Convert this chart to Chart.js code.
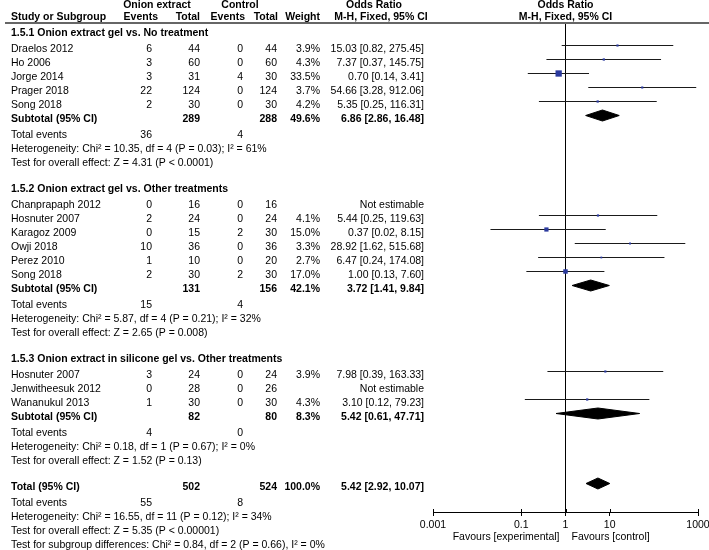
<!DOCTYPE html>
<html>
<head>
<meta charset="utf-8">
<script src="https://cdn.jsdelivr.net/npm/chart.js@4.4.1/dist/chart.umd.min.js"></script>
<style>
html, body { margin: 0; padding: 0; background: #fff; }
</style>
</head>
<body>
<canvas id="forest" width="709" height="550"></canvas>
<script>
// subgroups
var groupTitles = [
    '1.5.1 Onion extract gel vs. No treatment',
    '1.5.2 Onion extract gel vs. Other treatments',
    '1.5.3 Onion extract in silicone gel vs. Other treatments'
];

// studies (null = not estimable)
var studyNames = ['Draelos 2012', 'Ho 2006', 'Jorge 2014', 'Prager 2018', 'Song 2018',
    'Chanprapaph 2012', 'Hosnuter 2007', 'Karagoz 2009', 'Owji 2018', 'Perez 2010', 'Song 2018',
    'Hosnuter 2007', 'Jenwitheesuk 2012', 'Wananukul 2013'];
var studyGroup = [0, 0, 0, 0, 0, 1, 1, 1, 1, 1, 1, 2, 2, 2];
var expEvents = [6, 3, 3, 22, 2, 0, 2, 0, 10, 1, 2, 3, 0, 1];
var expTotal = [44, 60, 31, 124, 30, 16, 24, 15, 36, 10, 30, 24, 28, 30];
var ctlEvents = [0, 0, 4, 0, 0, 0, 0, 2, 0, 0, 2, 0, 0, 0];
var ctlTotal = [44, 60, 30, 124, 30, 16, 24, 30, 36, 20, 30, 24, 26, 30];
var weights = [3.9, 4.3, 33.5, 3.7, 4.2, null, 4.1, 15.0, 3.3, 2.7, 17.0, 3.9, null, 4.3];
var orEst = [15.03, 7.37, 0.70, 54.66, 5.35, null, 5.44, 0.37, 28.92, 6.47, 1.00, 7.98, null, 3.10];
var orLow = [0.82, 0.37, 0.14, 3.28, 0.25, null, 0.25, 0.02, 1.62, 0.24, 0.13, 0.39, null, 0.12];
var orHigh = [275.45, 145.75, 3.41, 912.06, 116.31, null, 119.63, 8.15, 515.68, 174.08, 7.60, 163.33, null, 79.23];

// subtotals
var subExpTotal = [289, 131, 82];
var subCtlTotal = [288, 156, 80];
var subWeight = [49.6, 42.1, 8.3];
var subEst = [6.86, 3.72, 5.42];
var subLow = [2.86, 1.41, 0.61];
var subHigh = [16.48, 9.84, 47.71];
var subExpEvents = [36, 15, 4];
var subCtlEvents = [4, 4, 0];
var subHet = ['Chi\u00b2 = 10.35, df = 4 (P = 0.03); I\u00b2 = 61%',
    'Chi\u00b2 = 5.87, df = 4 (P = 0.21); I\u00b2 = 32%',
    'Chi\u00b2 = 0.18, df = 1 (P = 0.67); I\u00b2 = 0%'];
var subZ = ['Z = 4.31 (P < 0.0001)', 'Z = 2.65 (P = 0.008)', 'Z = 1.52 (P = 0.13)'];

// overall
var totExpTotal = 502, totCtlTotal = 524, totWeight = 100.0;
var totEst = 5.42, totLow = 2.92, totHigh = 10.07;
var totExpEvents = 55, totCtlEvents = 8;
var totHet = 'Chi\u00b2 = 16.55, df = 11 (P = 0.12); I\u00b2 = 34%';
var totZ = 'Z = 5.35 (P < 0.00001)';
var subgroupDiff = 'Chi\u00b2 = 0.84, df = 2 (P = 0.66), I\u00b2 = 0%';

var xTicks = [0.001, 0.1, 1, 10, 1000];

// row layout (y in px from top, scale maps 1:1)
var rows = [];
var y = 33;
for (var g = 0; g < groupTitles.length; g++) {
    if (g > 0) y += 26;
    rows.push({ kind: 'group', i: g, y: y });
    var first = true;
    for (var s = 0; s < studyNames.length; s++) {
        if (studyGroup[s] !== g) continue;
        y += first ? 16 : 14;
        first = false;
        rows.push({ kind: 'study', i: s, y: y });
    }
    y += 14; rows.push({ kind: 'subtotal', i: g, y: y });
    y += 16; rows.push({ kind: 'events', i: g, y: y });
    y += 14; rows.push({ kind: 'het', i: g, y: y });
    y += 14; rows.push({ kind: 'test', i: g, y: y });
}
y += 26; rows.push({ kind: 'total', y: y });
y += 16; rows.push({ kind: 'totEvents', y: y });
y += 14; rows.push({ kind: 'totHet', y: y });
y += 14; rows.push({ kind: 'totTest', y: y });
y += 14; rows.push({ kind: 'diff', y: y });

var MARK_SHIFT = -3.5;
var DIAMOND_H = 5.5;
var FONT = "'Liberation Sans', Arial, sans-serif";

function fmtOR(e, l, h) {
    return e.toFixed(2) + ' [' + l.toFixed(2) + ', ' + h.toFixed(2) + ']';
}

// datasets
var datasets = [];
var squares = [];
var squareSizes = [];
rows.forEach(function (r) {
    if (r.kind === 'study' && orEst[r.i] !== null) {
        squares.push({ x: orEst[r.i], y: r.y + MARK_SHIFT });
        squareSizes.push(0.77 * Math.sqrt(weights[r.i]));
    }
});
datasets.push({
    data: squares, pointStyle: 'rect', pointRadius: squareSizes,
    backgroundColor: '#2b3a9e', borderWidth: 0, showLine: false
});

function diamond(e, l, h, yy) {
    var c = yy + MARK_SHIFT;
    return {
        data: [{ x: l, y: c }, { x: e, y: c - DIAMOND_H }, { x: h, y: c }, { x: e, y: c + DIAMOND_H }, { x: l, y: c }],
        showLine: true, fill: 'shape', backgroundColor: '#000', borderColor: '#000',
        borderWidth: 1, pointRadius: 0, tension: 0
    };
}
rows.forEach(function (r) {
    if (r.kind === 'subtotal') datasets.push(diamond(subEst[r.i], subLow[r.i], subHigh[r.i], r.y));
    if (r.kind === 'total') datasets.push(diamond(totEst, totLow, totHigh, r.y));
});

rows.forEach(function (r) {
    if (r.kind === 'study' && orEst[r.i] !== null) {
        datasets.push({
            data: [{ x: orLow[r.i], y: r.y + MARK_SHIFT }, { x: orHigh[r.i], y: r.y + MARK_SHIFT }],
            showLine: true, borderColor: '#1a1a1a', borderWidth: 1, pointRadius: 0
        });
    }
});

// line of no effect
datasets.push({
    data: [{ x: 1, y: 23 }, { x: 1, y: 512 }],
    showLine: true, borderColor: '#000', borderWidth: 1, pointRadius: 0
});

var tablePlugin = {
    id: 'tablePlugin',
    afterDraw: function (chart) {
        var ctx = chart.ctx;
        var xs = chart.scales.x, ys = chart.scales.y;
        var one = xs.getPixelForValue(1);

        function txt(t, x, yy, align, bold) {
            ctx.font = (bold ? 'bold ' : '') + '10.5px ' + FONT;
            ctx.textAlign = align;
            ctx.textBaseline = 'middle';
            ctx.fillStyle = '#000';
            ctx.fillText(t, x, yy);
        }

        ctx.save();
        // header
        txt('Onion extract', 157, 5.5, 'center', true);
        txt('Control', 240, 5.5, 'center', true);
        txt('Odds Ratio', 374, 5.5, 'center', true);
        txt('Odds Ratio', one, 5.5, 'center', true);
        txt('Study or Subgroup', 11, 17.5, 'left', true);
        txt('Events', 158, 17.5, 'right', true);
        txt('Total', 200, 17.5, 'right', true);
        txt('Events', 245, 17.5, 'right', true);
        txt('Total', 278, 17.5, 'right', true);
        txt('Weight', 320, 17.5, 'right', true);
        txt('M-H, Fixed, 95% CI', 381, 17.5, 'center', true);
        txt('M-H, Fixed, 95% CI', one, 17.5, 'center', true);

        ctx.strokeStyle = '#666';
        ctx.lineWidth = 2;
        ctx.beginPath();
        ctx.moveTo(5, 23);
        ctx.lineTo(709, 23);
        ctx.stroke();

        rows.forEach(function (r) {
            var py = ys.getPixelForValue(r.y);
            var i = r.i;
            switch (r.kind) {
                case 'group':
                    txt(groupTitles[i], 11, py, 'left', true);
                    break;
                case 'study':
                    txt(studyNames[i], 11, py, 'left');
                    txt(String(expEvents[i]), 152, py, 'right');
                    txt(String(expTotal[i]), 200, py, 'right');
                    txt(String(ctlEvents[i]), 243, py, 'right');
                    txt(String(ctlTotal[i]), 277, py, 'right');
                    if (orEst[i] !== null) {
                        txt(weights[i].toFixed(1) + '%', 320, py, 'right');
                        txt(fmtOR(orEst[i], orLow[i], orHigh[i]), 424, py, 'right');
                    } else {
                        txt('Not estimable', 424, py, 'right');
                    }
                    break;
                case 'subtotal':
                    txt('Subtotal (95% CI)', 11, py, 'left', true);
                    txt(String(subExpTotal[i]), 200, py, 'right', true);
                    txt(String(subCtlTotal[i]), 277, py, 'right', true);
                    txt(subWeight[i].toFixed(1) + '%', 320, py, 'right', true);
                    txt(fmtOR(subEst[i], subLow[i], subHigh[i]), 424, py, 'right', true);
                    break;
                case 'events':
                    txt('Total events', 11, py, 'left');
                    txt(String(subExpEvents[i]), 152, py, 'right');
                    txt(String(subCtlEvents[i]), 243, py, 'right');
                    break;
                case 'het':
                    txt('Heterogeneity: ' + subHet[i], 11, py, 'left');
                    break;
                case 'test':
                    txt('Test for overall effect: ' + subZ[i], 11, py, 'left');
                    break;
                case 'total':
                    txt('Total (95% CI)', 11, py, 'left', true);
                    txt(String(totExpTotal), 200, py, 'right', true);
                    txt(String(totCtlTotal), 277, py, 'right', true);
                    txt(totWeight.toFixed(1) + '%', 320, py, 'right', true);
                    txt(fmtOR(totEst, totLow, totHigh), 424, py, 'right', true);
                    break;
                case 'totEvents':
                    txt('Total events', 11, py, 'left');
                    txt(String(totExpEvents), 152, py, 'right');
                    txt(String(totCtlEvents), 243, py, 'right');
                    break;
                case 'totHet':
                    txt('Heterogeneity: ' + totHet, 11, py, 'left');
                    break;
                case 'totTest':
                    txt('Test for overall effect: ' + totZ, 11, py, 'left');
                    break;
                case 'diff':
                    txt('Test for subgroup differences: ' + subgroupDiff, 11, py, 'left');
                    break;
            }
        });

        // tick marks above the axis line
        ctx.strokeStyle = '#000';
        ctx.lineWidth = 1;
        xTicks.forEach(function (v) {
            var px = Math.round(xs.getPixelForValue(v)) + 0.5;
            ctx.beginPath();
            ctx.moveTo(px, chart.chartArea.bottom - 3);
            ctx.lineTo(px, chart.chartArea.bottom);
            ctx.stroke();
        });

        txt('Favours [experimental]', one - 6, 537, 'right');
        txt('Favours [control]', one + 6, 537, 'left');
        ctx.restore();
    }
};

var myChart = new Chart(document.getElementById('forest').getContext('2d'), {
    type: 'scatter',
    data: { datasets: datasets },
    plugins: [tablePlugin],
    options: {
        responsive: false,
        animation: false,
        devicePixelRatio: 1,
        layout: { autoPadding: false, padding: { left: 433, right: 11, top: 0, bottom: 16 } },
        plugins: { legend: { display: false }, tooltip: { enabled: false } },
        scales: {
            x: {
                type: 'logarithmic',
                min: 0.001,
                max: 1000,
                afterBuildTicks: function (scale) {
                    scale.ticks = xTicks.map(function (v) { return { value: v }; });
                },
                afterFit: function (scale) {
                    scale.height = 22;
                    scale.paddingLeft = 0;
                    scale.paddingRight = 0;
                },
                ticks: {
                    autoSkip: false,
                    maxRotation: 0,
                    padding: 3,
                    color: '#000',
                    font: { family: FONT, size: 10.5 },
                    callback: function (v) { return String(v); }
                },
                grid: { drawOnChartArea: false, tickLength: 4, color: '#000' },
                border: { display: true, color: '#000', width: 1 }
            },
            y: {
                type: 'linear',
                display: false,
                reverse: true,
                min: 0,
                max: 512
            }
        }
    }
});
</script>
</body>
</html>
